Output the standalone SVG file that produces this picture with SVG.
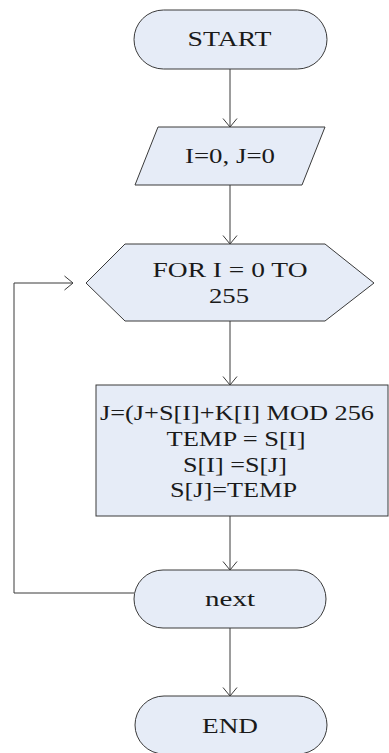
<svg xmlns="http://www.w3.org/2000/svg" width="389" height="753" viewBox="0 0 389 753">
  <style>
    .shape { fill: #e6ecf7; stroke: #3a3a3a; stroke-width: 1; }
    .lbl { font-family: "Liberation Serif", "Times New Roman", serif; font-size: 22px; fill: #1a1a1a; text-anchor: middle; }
    .conn { fill: none; stroke: #3a3a3a; stroke-width: 1; }
  </style>
  <defs>
    <marker id="arr" viewBox="0 0 10 16" refX="9.5" refY="8" markerWidth="10" markerHeight="16" markerUnits="userSpaceOnUse" orient="auto">
      <path d="M1,1 L9.5,8 L1,15" fill="none" stroke="#3a3a3a" stroke-width="1"/>
    </marker>
  </defs>
  <rect width="389" height="753" fill="#ffffff"/>

  <g id="connectors">
    <line class="conn" x1="230" y1="69" x2="230" y2="127" marker-end="url(#arr)"/>
    <line class="conn" x1="230" y1="185" x2="230" y2="244" marker-end="url(#arr)"/>
    <line class="conn" x1="230" y1="321" x2="230" y2="385" marker-end="url(#arr)"/>
    <line class="conn" x1="230" y1="516" x2="230" y2="570" marker-end="url(#arr)"/>
    <line class="conn" x1="230" y1="628" x2="230" y2="696" marker-end="url(#arr)"/>
    <polyline class="conn" points="134,593 14,593 14,283 73,283" marker-end="url(#arr)"/>
  </g>

  <g id="start">
    <rect class="shape" x="134" y="10" width="193" height="59" rx="29.5" ry="29.5"/>
    <text class="lbl" x="229.5" y="46" textLength="84" lengthAdjust="spacingAndGlyphs">START</text>
  </g>

  <g id="init">
    <polygon class="shape" points="158,127 325,127 302,185 135,185"/>
    <text class="lbl" x="230" y="163" textLength="90" lengthAdjust="spacingAndGlyphs">I=0, J=0</text>
  </g>

  <g id="loop">
    <polygon class="shape" points="86,283 125,244 325,244 374,283 325,321 125,321"/>
    <text class="lbl" x="230" y="277" textLength="155" lengthAdjust="spacingAndGlyphs">FOR I = 0 TO</text>
    <text class="lbl" x="229" y="303" textLength="40" lengthAdjust="spacingAndGlyphs">255</text>
  </g>

  <g id="body">
    <rect class="shape" x="96" y="385" width="292" height="131"/>
    <text class="lbl" x="237" y="420" textLength="274" lengthAdjust="spacingAndGlyphs">J=(J+S[I]+K[I] MOD 256</text>
    <text class="lbl" x="236" y="446" textLength="139" lengthAdjust="spacingAndGlyphs">TEMP = S[I]</text>
    <text class="lbl" x="235" y="472" textLength="104" lengthAdjust="spacingAndGlyphs">S[I] =S[J]</text>
    <text class="lbl" x="233.5" y="497" textLength="127" lengthAdjust="spacingAndGlyphs">S[J]=TEMP</text>
  </g>

  <g id="next">
    <rect class="shape" x="134" y="570" width="192" height="58" rx="29" ry="29"/>
    <text class="lbl" x="230" y="606" textLength="50" lengthAdjust="spacingAndGlyphs">next</text>
  </g>

  <g id="end">
    <rect class="shape" x="135" y="696" width="192" height="58" rx="29" ry="29"/>
    <text class="lbl" x="230" y="733" textLength="56" lengthAdjust="spacingAndGlyphs">END</text>
  </g>
</svg>
